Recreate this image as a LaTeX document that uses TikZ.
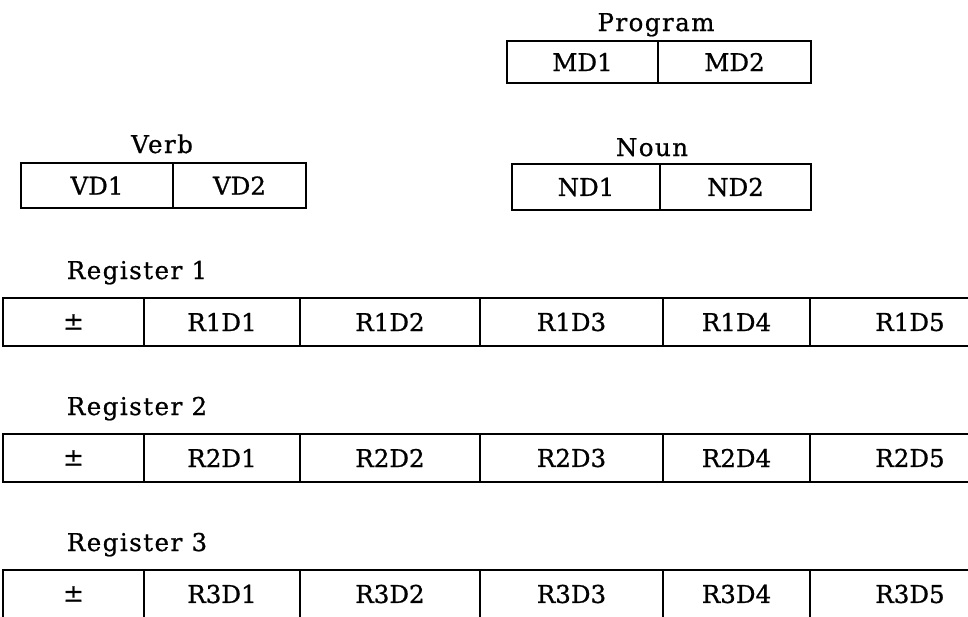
\documentclass[tikz,border=0pt]{standalone}
\usepackage{fontspec}
\setmainfont[FakeBold=0.8]{DejaVu Serif}
\newfontfamily\lblfont[LetterSpace=6, FakeBold=0.8]{DejaVu Serif}
\usetikzlibrary{positioning}
\tikzset{
    cell/.style 2 args={draw=black, line width=2.2pt, rectangle, inner sep=0pt, outer sep=0pt,
        minimum width=#1pt, minimum height=#2pt, font=\fontsize{24.5}{28}\selectfont},
    lbl/.style={inner sep=0pt, anchor=base, font=\lblfont\fontsize{24.5}{28}\selectfont}
}

\begin{document}
\begin{tikzpicture}[x=1pt, y=-1pt]
      \useasboundingbox (0,0) rectangle (968,616);
      \clip (0,0) rectangle (968,616);

      % program
      \node[lbl] (proglbl) at (656,31) {Program};
      \node[cell={151}{42}, anchor=north west] (md1) at (507,41) {MD1};
      \node[cell={153}{42}, right=0pt of md1] (md2) {MD2};

      % verb and noun
      \node[lbl] (verblbl) at (162,153) {Verb};
      \node[cell={152}{45}, anchor=north west] (vd1) at (21,163) {VD1};
      \node[cell={133}{45}, right=0pt of vd1] (vd2) {VD2};

      \node[lbl] (nounlbl) at (652,156) {Noun};
      \node[cell={148}{46}, anchor=north west] (nd1) at (512,164) {ND1};
      \node[cell={151}{46}, right=0pt of nd1] (nd2) {ND2};

      % registers
      \foreach \r/\y in {1/298, 2/434, 3/570} {
        \node[lbl] (reg\r) at (137,\y-19) {Register \r};
        \node[cell={141}{48}, anchor=north west] (r\r sg) at (3,\y) {±};
        \node[cell={156}{48}, right=0pt of r\r sg] (r\r d1) {R\r D1};
        \node[cell={180}{48}, right=0pt of r\r d1] (r\r d2) {R\r D2};
        \node[cell={183}{48}, right=0pt of r\r d2] (r\r d3) {R\r D3};
        \node[cell={147}{48}, right=0pt of r\r d3] (r\r d4) {R\r D4};
        \node[cell={200}{48}, right=0pt of r\r d4] (r\r d5) {R\r D5};
      }
    \end{tikzpicture}
\end{document}
